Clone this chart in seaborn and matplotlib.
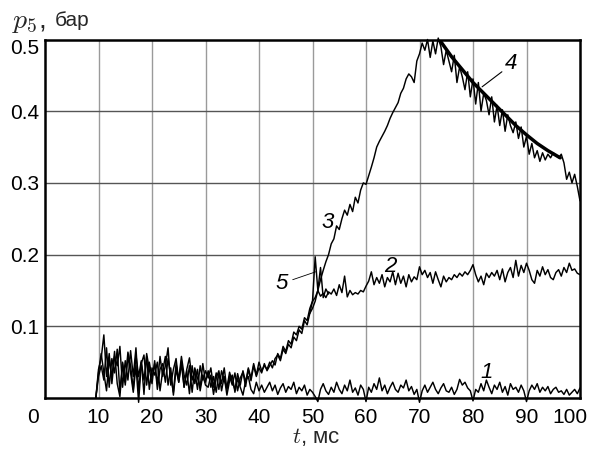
import numpy as np
import pandas as pd
import matplotlib
matplotlib.use("Agg")
import matplotlib.pyplot as plt
import matplotlib.transforms as mtransforms
import seaborn as sns

# sample times, ms (traces digitised every 0.5 ms)
t = np.arange(9.5, 100.01, 0.5)

# pressure traces, in mbar
p1_mbar = [0, 35,
           62, 35, 10, 55, 28, 65, 20, 2, 48, 18, 58, 35, 8, 45, -6, 50, 25, 58, 12, 42,
           32, 50, 10, 38, 58, 18, 42, 4, 40, 22, 52, 15, 38, 6, 45, 20, 40, 10, 32, 18,
           15, 32, 5, 28, 38, 10, 30, 4, 24, 32, 8, 27, 15, 4, 24, 30, 12, 6, 22, 10,
           18, 8, 15, 22, 10, 18, 5, 14, 20, 8, 16, 12, 22, 6, 15, 10, 18, 4, 12, 8,
           2, -5, 12, 20, 10, 5, 15, 8, 22, 12, 6, 18, 10, 25, 8, 14, 4, 18, 12, -5,
           15, 8, 20, 12, 28, 10, 18, 6, 15, 22, 12, 8, 18, 14, 25, 10, 16, 5, 12, -6,
           10, 18, 8, 15, 22, 12, 6, 14, 20, 10, 8, 15, 5, 12, 26, 18, 22, 14, 10, -4,
           12, 8, 20, 10, 25, 15, 6, 18, 12, 22, 8, 16, 4, 20, 12, 15, 8, 18, 10, -5,
           10, 18, 12, 20, 8, 15, 10, 16, 6, 12, 15, 8, 10, 5, 12, 4, 8, 12, 6, 14]

p2_mbar = [0, 30,
           45, 25, 70, 15, 55, 35, 68, 8, 50, 22, 64, 45, 12, 60, 30, 52, 5, 62, 40, 20,
           52, 12, 40, 48, 22, 55, 30, 8, 48, 25, 58, 32, 18, 45, 8, 42, 28, 15, 48, 22,
           38, 15, 30, 8, 35, 20, 42, 12, 30, 18, 35, 10, 28, 36, 16, 40, 24, 45, 30, 42,
           35, 48, 38, 45, 52, 46, 62, 55, 72, 65, 80, 75, 92, 88, 100, 96, 112, 108, 125, 135,
           140, 150, 142, 146, 140, 148, 145, 152, 143, 158, 147, 170, 141, 150, 144, 147, 145, 150, 148, 156,
           163, 176, 158, 168, 160, 172, 155, 168, 162, 176, 158, 174, 160, 170, 155, 172, 162, 169, 165, 183,
           172, 178, 168, 175, 160, 176, 165, 155, 170, 162, 168, 165, 172, 168, 174, 170, 176, 172, 178, 186,
           172, 162, 170, 158, 174, 168, 175, 170, 178, 165, 180, 162, 175, 182, 168, 192, 170, 185, 175, 188,
           178, 165, 160, 178, 170, 183, 172, 179, 168, 165, 175, 179, 170, 182, 175, 188, 178, 180, 174, 172]

p3_mbar = [0, 40,
           55, 88, 30, 62, 20, 58, 45, 72, 15, 52, 25, 66, 30, 70, 10, 48, 60, 18, 50, 28,
           48, 20, 58, 30, 45, 70, 18, 40, 55, 22, 48, 15, 40, 56, 25, 38, 12, 45, 25, 38,
           28, 42, 15, 35, 12, 38, 25, 14, 36, 22, 12, 34, 18, 38, 22, 42, 28, 48, 32, 50,
           38, 45, 40, 50, 42, 55, 60, 52, 68, 62, 75, 70, 85, 80, 95, 90, 108, 102, 118, 125,
           135, 150, 165, 178, 190, 200, 215, 222, 240, 235, 250, 262, 255, 270, 260, 280, 272, 290, 300, 298,
           310, 322, 335, 350, 358, 365, 372, 380, 390, 398, 405, 412, 425, 432, 445, 452, 448, 440, 470, 480,
           495, 485, 500, 475, 498, 480, 502, 490, 465, 485, 470, 455, 478, 440, 462, 448, 430, 455, 420, 445,
           410, 440, 400, 425, 415, 395, 420, 385, 408, 380, 402, 372, 395, 380, 370, 385, 362, 378, 350, 365,
           340, 355, 335, 345, 330, 342, 332, 340, 335, 342, 338, 335, 340, 328, 305, 315, 300, 312, 295, 275]

# smooth decay curve 4
t4 = [73.5, 76, 78, 80, 82, 84, 86, 88, 90, 92, 94, 96.3]
p4 = [0.502, 0.476, 0.458, 0.44, 0.425, 0.41, 0.395, 0.38, 0.367, 0.355, 0.345, 0.335]

# short spike trace 5
t5 = [49.5, 50.0, 50.5, 51.0, 51.5, 52.0, 52.5, 53.0]
p5_mbar = [118, 135, 197, 150, 182, 140, 152, 145]

xticks = [0, 10, 20, 30, 40, 50, 60, 70, 80, 90, 100]
yticks = [0.1, 0.2, 0.3, 0.4, 0.5]

sns.set_theme(style="white")
plt.rcParams["font.family"] = ["Liberation Sans", "DejaVu Sans"]
plt.rcParams["mathtext.fontset"] = "cm"

fig = plt.figure(figsize=(5.91, 4.49), dpi=100)
ax = fig.add_axes([45 / 591, 51 / 449, 535 / 591, 358.5 / 449])

for p in (p1_mbar, p2_mbar, p3_mbar):
    sns.lineplot(x=t, y=np.array(p) / 1000, color="black", lw=1.05, ax=ax,
                 sort=False, clip_on=False)
sns.lineplot(x=t5, y=np.array(p5_mbar) / 1000, color="black", lw=1.05, ax=ax, sort=False)
sns.lineplot(x=t4, y=p4, color="black", lw=2.5, ax=ax, sort=False)

ax.set_xlim(0, 100)
ax.set_ylim(0, 0.5)
ax.set_xticks(xticks)
ax.set_yticks(yticks)
ax.set_xticklabels([str(v) for v in xticks])
ax.set_yticklabels([f"{v:.1f}" for v in yticks])
ax.tick_params(axis="x", length=0, pad=7, labelsize=15, colors="black")
ax.tick_params(axis="y", direction="in", length=6, width=1.5, pad=4,
               labelsize=15, colors="black")

for x in xticks[1:-1]:
    ax.axvline(x, color="#9a9a9a", lw=1.0, zorder=0)
for y in yticks[:-1]:
    ax.axhline(y, color="#555555", lw=1.0, zorder=0)
for s in ax.spines.values():
    s.set_color("black")
    s.set_linewidth(1.8)

# nudge the end labels inward like the original
labels = ax.get_xticklabels()
labels[0].set_transform(labels[0].get_transform()
                        + mtransforms.ScaledTranslation(-12 / 100, 0, fig.dpi_scale_trans))
labels[-1].set_transform(labels[-1].get_transform()
                         + mtransforms.ScaledTranslation(-10 / 100, 0, fig.dpi_scale_trans))
ax.get_yticklabels()[-1].set_va("top")

ax.set_xlabel("")
ax.set_ylabel("")
fig.text(316 / 591, 1 - 437 / 449, r"$t$, мс", ha="center", va="center", fontsize=16)
fig.text(12 / 591, 1 - 22 / 449, r"$p_5$,", ha="left", va="center", fontsize=20)
fig.text(55 / 591, 1 - 21 / 449, "бар", ha="left", va="center", fontsize=15)

# curve numbers
lab = dict(fontsize=16, style="italic", ha="center", va="center", color="black")
ax.text(82.6, 0.036, "1", **lab)
ax.text(64.5, 0.184, "2", **lab)
ax.text(52.9, 0.245, "3", **lab)
ax.text(87.2, 0.467, "4", **lab)
ax.text(44.3, 0.16, "5", **lab)
ax.plot([85.4, 81.7], [0.455, 0.434], color="black", lw=0.8)
ax.plot([46.3, 50.6], [0.165, 0.176], color="black", lw=0.6)

fig.savefig("out.png", dpi=100)
